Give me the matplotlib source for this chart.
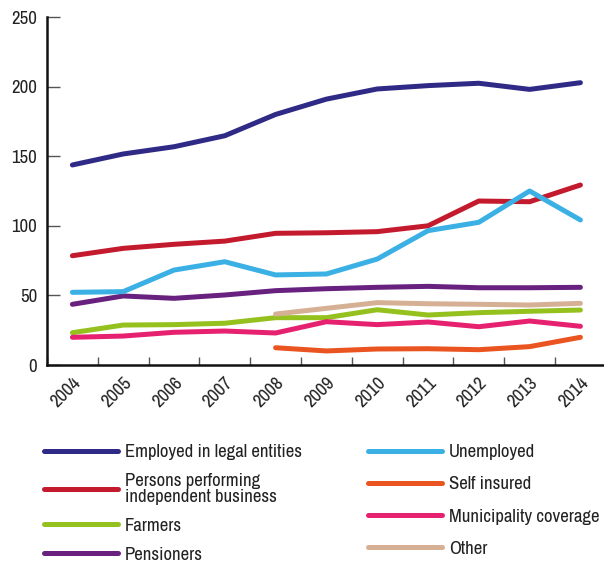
import matplotlib
matplotlib.use('Agg')
import matplotlib.pyplot as plt
from matplotlib import font_manager as fm
import numpy as np

# pick a narrow sans face if one is installed
entries = fm.fontManager.ttflist
names = {f.name for f in entries}
narrow = [f for f in entries
          if f.stretch in ('condensed', 'semi-condensed', 'extra-condensed', 'ultra-condensed')
          or 'Narrow' in f.name or 'Condensed' in f.name]
if 'Liberation Sans Narrow' in names:
    plt.rcParams['font.family'] = ['Liberation Sans Narrow', 'DejaVu Sans']
    scale = 1.0
elif narrow:
    f0 = sorted(narrow, key=lambda f: (f.weight != 400 and f.weight != 'normal', f.name))[0]
    plt.rcParams['font.family'] = [f0.name, 'DejaVu Sans']
    plt.rcParams['font.stretch'] = f0.stretch
    scale = 1.0
else:
    plt.rcParams['font.family'] = ['Roboto', 'DejaVu Sans']
    scale = 0.82

years = ['2004', '2005', '2006', '2007', '2008', '2009', '2010', '2011', '2012', '2013', '2014']

employed = [143.7, 151.6, 156.8, 164.7, 180.0, 191.0, 198.3, 200.7, 202.4, 198.0, 202.8]
independent = [78.5, 83.8, 86.7, 89.0, 94.6, 95.0, 95.8, 100.0, 117.8, 117.3, 129.3]
farmers = [23.2, 28.7, 29.0, 30.0, 34.0, 34.0, 39.7, 35.9, 37.6, 38.6, 39.5]
pensioners = [43.6, 49.6, 47.9, 50.3, 53.4, 54.8, 55.8, 56.5, 55.5, 55.5, 55.8]
unemployed = [52.2, 52.7, 68.2, 74.2, 64.7, 65.4, 76.1, 96.5, 102.5, 125.0, 104.2]
self_insured = [None, None, None, None, 12.4, 10.1, 11.5, 11.7, 11.0, 13.2, 19.9]
municipality = [19.9, 20.8, 23.5, 24.4, 23.0, 31.1, 29.0, 30.9, 27.5, 31.6, 27.8]
other = [None, None, None, None, 36.6, 40.7, 44.8, 44.0, 43.6, 43.1, 44.3]

labels_left = ['Employed in legal entities', 'Persons performing\nindependent business',
               'Farmers', 'Pensioners']
labels_right = ['Unemployed', 'Self insured', 'Municipality coverage', 'Other']
colors_left = ['#2f2a85', '#c41a2e', '#95c11f', '#68217f']
colors_right = ['#3bb0e4', '#ea5420', '#e6216f', '#d6b094']

fig = plt.figure(figsize=(6.04, 5.67), dpi=100)
ax = fig.add_axes([47 / 604, 202 / 567, 558.8 / 604, 348 / 567])

x = np.arange(len(years))


def series(vals):
    return np.array([np.nan if v is None else v for v in vals], dtype=float)


lw = 3.6
handles_left = []
for vals, c in zip([employed, independent, farmers, pensioners], colors_left):
    h, = ax.plot(x, series(vals), color=c, lw=lw, solid_capstyle='round', solid_joinstyle='round')
    handles_left.append(h)
handles_right = []
for vals, c in zip([unemployed, self_insured, municipality, other], colors_right):
    h, = ax.plot(x, series(vals), color=c, lw=lw, solid_capstyle='round', solid_joinstyle='round')
    handles_right.append(h)

fs = 13.5 * scale
ax.set_xlim(-0.5, len(years) - 0.5)
ax.set_ylim(0, 250)
ax.set_yticks(range(0, 251, 50))
ax.set_xticks(x)
ax.set_xticklabels(years, rotation=45, ha='right', va='top', rotation_mode='anchor')
ax.set_xticks(np.arange(-0.5, len(years), 1), minor=True)

ax.tick_params(axis='y', direction='in', length=9.5, width=1, color='#555555',
               labelsize=fs, pad=7, labelcolor='#222222')
ax.tick_params(axis='x', which='major', length=0, labelsize=fs, pad=7, labelcolor='#222222')
ax.tick_params(axis='x', which='minor', direction='in', length=6, width=1, color='#555555')

for s in ['top', 'right']:
    ax.spines[s].set_visible(False)
for s in ['left', 'bottom']:
    ax.spines[s].set_linewidth(1.8)
    ax.spines[s].set_color('#111111')

lfs = 13.5 * scale
leg_kw = dict(frameon=False, fontsize=lfs, handlelength=53 / lfs, handletextpad=5.5 / lfs,
              borderaxespad=0, borderpad=0, labelcolor='#222222')
leg1 = fig.legend(handles_left, labels_left, loc='upper left',
                  bbox_to_anchor=(44 / 604, 1 - 444 / 567), labelspacing=0.68, **leg_kw)
leg2 = fig.legend(handles_right, labels_right, loc='upper left',
                  bbox_to_anchor=(368 / 604, 1 - 444 / 567), labelspacing=0.86, **leg_kw)
for leg in (leg1, leg2):
    for t in leg.get_texts():
        t.set_linespacing(1.0)

fig.savefig('out.png', dpi=100)
